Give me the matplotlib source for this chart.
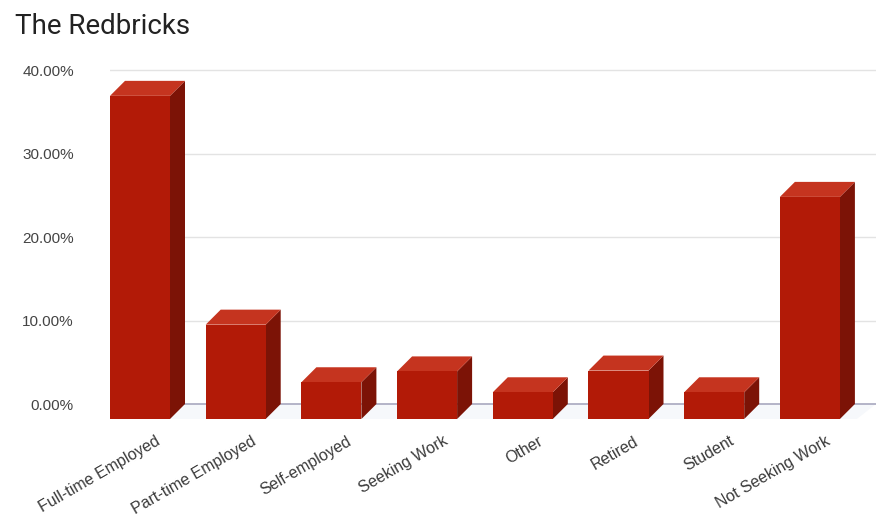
import matplotlib
matplotlib.use("Agg")
import matplotlib.pyplot as plt
from matplotlib.patches import Polygon
import numpy as np

categories = ["Full-time Employed", "Part-time Employed", "Self-employed", "Seeking Work",
              "Other", "Retired", "Student", "Not Seeking Work"]
values = [38.7, 11.3, 4.4, 5.7, 3.2, 5.8, 3.2, 26.6]
yticks = [0, 10, 20, 30, 40]
ytick_labels = ["0.00%", "10.00%", "20.00%", "30.00%", "40.00%"]
title = "The Redbricks"

W, H = 876, 528
fig = plt.figure(figsize=(W / 100, H / 100), dpi=100)
ax_left, ax_right, ax_top, ax_bottom = 110, 876, 66, 425
ax = fig.add_axes([ax_left / W, 1 - ax_bottom / H, (ax_right - ax_left) / W, (ax_bottom - ax_top) / H])

slot_px = 95.7
x0_px = 140
xlim = ((ax_left - x0_px) / slot_px, (ax_right - x0_px) / slot_px)
px_per_unit_y = 8.35
ylim = (-(ax_bottom - 404) / px_per_unit_y, 40 + (70 - ax_top) / px_per_unit_y)
ax.set_xlim(*xlim)
ax.set_ylim(*ylim)

bw = 0.627
dx = 15 / slot_px
dy = 15 / px_per_unit_y

front_c = "#b21a07"
top_c = "#c5341f"
side_c = "#7c1306"

# gridlines
for t in yticks[1:]:
    ax.axhline(t, color="#e3e3e3", lw=1.0, zorder=0)

# floor
floor = Polygon([(xlim[0] - 0.2, -dy), (xlim[0], 0), (xlim[1], 0), (xlim[1] - 0.2, -dy)],
                closed=True, facecolor="#f6f8fb", edgecolor="none", zorder=0.5)
ax.add_patch(floor)
ax.axhline(0, color="#b4b4c8", lw=1.4, zorder=0.8)

xs = np.arange(len(categories))
for x, v in zip(xs, values):
    l = x - bw / 2
    r = x + bw / 2
    ax.add_patch(Polygon([(r, -dy), (r + dx, 0), (r + dx, v), (r, v - dy)], closed=True,
                         facecolor=side_c, edgecolor="none", zorder=2))
    ax.add_patch(Polygon([(l, v - dy), (l + dx, v), (r + dx, v), (r, v - dy)], closed=True,
                         facecolor=top_c, edgecolor="none", zorder=2))
ax.bar(xs, np.array(values), width=bw, bottom=-dy, color=front_c, edgecolor="none", zorder=3)

for s in ax.spines.values():
    s.set_visible(False)

ax.set_yticks(yticks)
ax.set_yticklabels(ytick_labels)
ax.tick_params(axis="y", length=0, pad=26, labelsize=11, labelcolor="#444444")
for lbl in ax.get_yticklabels():
    lbl.set_fontfamily("Liberation Sans")

ax.set_xticks(xs + 0.16)
ax.set_xticklabels(categories, rotation=30, ha="right", rotation_mode="anchor",
                   fontsize=11.5, color="#3a3a3a", family="Liberation Sans")
ax.tick_params(axis="x", length=0, pad=6)

fig.text(15 / W, 1 - 27 / H, title, fontsize=20, family="Roboto", color="#222222",
         ha="left", va="center")

fig.savefig("out.png", dpi=100, facecolor="white")
